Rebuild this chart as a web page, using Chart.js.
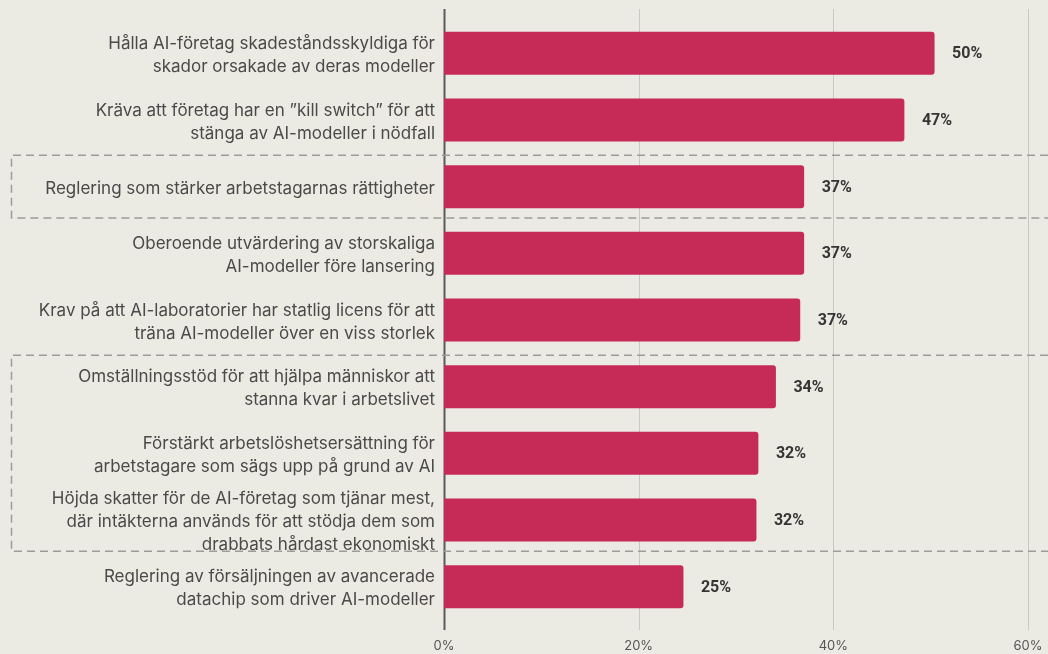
<!DOCTYPE html>
<html>
<head>
<meta charset="utf-8">
<script src="https://cdn.jsdelivr.net/npm/chart.js@4"></script>
<style>
  html, body { margin: 0; padding: 0; background: #ebeae3; }
  #wrap { width: 1048px; height: 654px; }
</style>
</head>
<body>
<div id="wrap"><canvas id="chart"></canvas></div>
<script>
const categories = [
  ['Hålla AI-företag skadeståndsskyldiga för', 'skador orsakade av deras modeller'],
  ['Kräva att företag har en ”kill switch” för att', 'stänga av AI-modeller i nödfall'],
  'Reglering som stärker arbetstagarnas rättigheter',
  ['Oberoende utvärdering av storskaliga', 'AI-modeller före lansering'],
  ['Krav på att AI-laboratorier har statlig licens för att', 'träna AI-modeller över en viss storlek'],
  ['Omställningsstöd för att hjälpa människor att', 'stanna kvar i arbetslivet'],
  ['Förstärkt arbetslöshetsersättning för', 'arbetstagare som sägs upp på grund av AI'],
  ['Höjda skatter för de AI-företag som tjänar mest,', 'där intäkterna används för att stödja dem som', 'drabbats hårdast ekonomiskt'],
  ['Reglering av försäljningen av avancerade', 'datachip som driver AI-modeller']
];
const values = [50.4, 47.3, 37.0, 37.0, 36.6, 34.1, 32.3, 32.1, 24.6];
const valueLabels = ['50%', '47%', '37%', '37%', '37%', '34%', '32%', '32%', '25%'];
const xTicks = [0, 20, 40, 60];
// groups outlined with a dashed box (first and last category index)
const groups = [[2, 2], [5, 7]];

const BAR = '#c62b57';

const decorations = {
  id: 'decorations',
  beforeDatasetsDraw(chart) {
    const { ctx, chartArea, scales } = chart;
    const x = scales.x, y = scales.y;
    ctx.save();
    // vertical grid lines
    xTicks.forEach(t => {
      const px = Math.round(x.getPixelForValue(t)) + 0.5;
      ctx.beginPath();
      ctx.strokeStyle = t === 0 ? '#5a5a5a' : '#c9c8c2';
      ctx.lineWidth = t === 0 ? 2 : 1;
      ctx.moveTo(px, chartArea.top - 11);
      ctx.lineTo(px, chartArea.bottom + 10);
      ctx.stroke();
    });
    // dashed group boxes
    const slot = (chartArea.bottom - chartArea.top) / categories.length;
    ctx.setLineDash([8, 5]);
    ctx.strokeStyle = '#9d9c98';
    ctx.lineWidth = 1.5;
    groups.forEach(([a, b]) => {
      const top = y.getPixelForValue(a) - slot / 2 + 2;
      const bottom = y.getPixelForValue(b) + slot / 2 - 2;
      ctx.beginPath();
      ctx.moveTo(chart.width, top);
      ctx.lineTo(11.5, top);
      ctx.lineTo(11.5, bottom);
      ctx.lineTo(chart.width, bottom);
      ctx.stroke();
    });
    ctx.restore();
  },
  afterDatasetsDraw(chart) {
    const { ctx } = chart;
    const meta = chart.getDatasetMeta(0);
    ctx.save();
    ctx.font = 'bold 16px Roboto';
    ctx.fillStyle = '#353535';
    ctx.textAlign = 'left';
    ctx.textBaseline = 'middle';
    meta.data.forEach((bar, i) => {
      ctx.fillText(valueLabels[i], bar.x + 17.5, bar.y + 1);
    });
    ctx.restore();
  }
};

new Chart(document.getElementById('chart'), {
  type: 'bar',
  data: {
    labels: categories,
    datasets: [{
      data: values,
      backgroundColor: BAR,
      borderRadius: 3,
      borderSkipped: 'left',
      barPercentage: 0.645,
      categoryPercentage: 1
    }]
  },
  options: {
    indexAxis: 'y',
    responsive: true,
    maintainAspectRatio: false,
    animation: false,
    layout: { padding: { top: 20, right: 20, bottom: 0, left: 0 } },
    plugins: { legend: { display: false }, tooltip: { enabled: false } },
    scales: {
      x: {
        min: 0,
        max: 60,
        afterBuildTicks(scale) { scale.ticks = xTicks.map(v => ({ value: v })); },
        afterFit(scale) { scale.height = 34; scale.paddingLeft = 0; scale.paddingRight = 0; },
        grid: { display: false, drawTicks: false },
        border: { display: false },
        ticks: {
          padding: 18,
          color: '#555',
          font: { family: 'Inter', size: 13 },
          callback: v => v + '%'
        }
      },
      y: {
        afterFit(scale) { scale.width = 444; scale.paddingTop = 0; scale.paddingBottom = 0; },
        grid: { display: false, drawTicks: false },
        border: { display: false },
        ticks: {
          autoSkip: false,
          padding: 9,
          labelOffset: 2,
          color: '#4a4a4a',
          font: { family: 'Inter', size: 17, lineHeight: 1.35 }
        }
      }
    }
  },
  plugins: [decorations]
});
</script>
</body>
</html>
